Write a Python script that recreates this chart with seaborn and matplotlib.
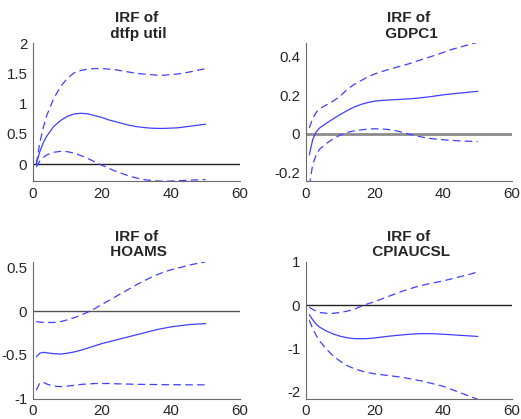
import numpy as np
import pandas as pd
import seaborn as sns
import matplotlib
matplotlib.use("Agg")
import matplotlib.pyplot as plt
from matplotlib.ticker import FuncFormatter

h = [1, 2, 3, 4, 6, 8, 10, 12, 14, 16, 18, 20, 22, 24, 26, 28, 30,
     32, 34, 36, 38, 40, 42, 44, 46, 48, 50]

titles = ["IRF of\n dtfp util", "IRF of\n GDPC1", "IRF of\n HOAMS", "IRF of\n CPIAUCSL"]

# dtfp util
dtfp_mid = [0.0, 0.2, 0.35, 0.46, 0.62, 0.72, 0.79, 0.83, 0.84, 0.83, 0.80, 0.77, 0.73,
            0.70, 0.67, 0.64, 0.62, 0.605, 0.595, 0.59, 0.59, 0.595, 0.60, 0.615, 0.63, 0.645, 0.66]
dtfp_hi = [0.0, 0.35, 0.6, 0.8, 1.08, 1.28, 1.42, 1.51, 1.55, 1.57, 1.58, 1.58, 1.57,
           1.56, 1.54, 1.52, 1.50, 1.49, 1.48, 1.47, 1.47, 1.48, 1.49, 1.51, 1.53, 1.555, 1.58]
dtfp_lo = [-0.05, 0.05, 0.11, 0.15, 0.195, 0.21, 0.205, 0.18, 0.14, 0.09, 0.035, -0.02, -0.07,
           -0.12, -0.16, -0.2, -0.23, -0.255, -0.27, -0.28, -0.285, -0.28, -0.275, -0.27, -0.265, -0.26, -0.255]

# GDPC1
gdp_mid = [-0.11, -0.03, 0.01, 0.03, 0.055, 0.078, 0.1, 0.12, 0.138, 0.152, 0.162, 0.169, 0.173,
           0.175, 0.177, 0.179, 0.181, 0.184, 0.188, 0.192, 0.197, 0.202, 0.206, 0.21, 0.213, 0.217, 0.22]
gdp_hi = [0.03, 0.08, 0.11, 0.13, 0.15, 0.17, 0.195, 0.23, 0.255, 0.275, 0.295, 0.31, 0.322,
          0.333, 0.343, 0.353, 0.363, 0.375, 0.387, 0.398, 0.41, 0.422, 0.435, 0.445, 0.455, 0.465, 0.475]
gdp_lo = [-0.27, -0.16, -0.11, -0.08, -0.05, -0.025, -0.007, 0.007, 0.015, 0.02, 0.024, 0.026, 0.025,
          0.022, 0.016, 0.008, -0.002, -0.01, -0.018, -0.024, -0.028, -0.031, -0.034, -0.036, -0.038, -0.039, -0.04]

# HOAMS
hoams_mid = [-0.52, -0.48, -0.47, -0.475, -0.485, -0.49, -0.48, -0.465, -0.445, -0.42, -0.395, -0.37, -0.35,
             -0.33, -0.31, -0.29, -0.27, -0.25, -0.23, -0.21, -0.195, -0.18, -0.17, -0.16, -0.152, -0.147, -0.143]
hoams_hi = [-0.12, -0.125, -0.13, -0.13, -0.13, -0.12, -0.1, -0.075, -0.045, -0.01, 0.03, 0.075, 0.12,
            0.165, 0.21, 0.255, 0.3, 0.34, 0.38, 0.415, 0.445, 0.47, 0.49, 0.51, 0.53, 0.545, 0.56]
hoams_lo = [-0.9, -0.82, -0.81, -0.83, -0.855, -0.86, -0.855, -0.845, -0.835, -0.83, -0.825, -0.825, -0.825,
            -0.828, -0.83, -0.832, -0.834, -0.835, -0.836, -0.837, -0.838, -0.838, -0.839, -0.839, -0.84, -0.84, -0.84]

# CPIAUCSL
cpi_mid = [-0.22, -0.34, -0.44, -0.51, -0.6, -0.67, -0.72, -0.755, -0.775, -0.78, -0.775, -0.76, -0.74,
           -0.72, -0.705, -0.69, -0.675, -0.665, -0.66, -0.66, -0.665, -0.675, -0.685, -0.695, -0.705, -0.715, -0.725]
cpi_hi = [-0.05, -0.1, -0.14, -0.17, -0.19, -0.19, -0.17, -0.14, -0.1, -0.03, 0.03, 0.08, 0.14,
          0.2, 0.26, 0.32, 0.37, 0.42, 0.46, 0.5, 0.53, 0.56, 0.6, 0.64, 0.68, 0.72, 0.77]
cpi_lo = [-0.35, -0.55, -0.7, -0.83, -1.02, -1.18, -1.3, -1.4, -1.47, -1.52, -1.56, -1.59, -1.61,
          -1.63, -1.65, -1.67, -1.7, -1.73, -1.76, -1.8, -1.84, -1.88, -1.94, -2.0, -2.06, -2.12, -2.18]

series = [(dtfp_mid, dtfp_hi, dtfp_lo), (gdp_mid, gdp_hi, gdp_lo),
          (hoams_mid, hoams_hi, hoams_lo), (cpi_mid, cpi_hi, cpi_lo)]
ylims = [(-0.28, 2.0), (-0.245, 0.47), (-1.0, 0.56), (-2.17, 1.0)]
yticks = [[0, 0.5, 1, 1.5, 2], [-0.2, 0, 0.2, 0.4], [-1, -0.5, 0, 0.5], [-2, -1, 0, 1]]
zero_col = ["#222222", "#8c8c8c", "#555555", "#222222"]
zero_lw = [1.0, 2.0, 1.0, 1.0]

sns.set_style("white")
plt.rcParams['font.family'] = ['Liberation Sans', 'DejaVu Sans']
plt.rcParams['axes.unicode_minus'] = False

fig = plt.figure(figsize=(5.21, 4.19), dpi=100)
# axes boxes in figure fractions [left, bottom, width, height]
boxes = [[0.063, 0.568, 0.398, 0.329], [0.587, 0.568, 0.396, 0.329],
         [0.063, 0.048, 0.398, 0.327], [0.587, 0.048, 0.396, 0.327]]

blue = (0.25, 0.25, 1.0)
for i in range(4):
    ax = fig.add_axes(boxes[i])
    mid, hi, lo = series[i]
    df = pd.DataFrame({"h": h, "mid": mid, "hi": hi, "lo": lo})
    ax.axhline(0, color=zero_col[i], lw=zero_lw[i], zorder=1)
    sns.lineplot(data=df, x="h", y="mid", ax=ax, color=blue, lw=0.9)
    for col in ["hi", "lo"]:
        sns.lineplot(data=df, x="h", y=col, ax=ax, color=blue, lw=0.9,
                     dashes=False, linestyle=(0, (6, 3.5)))
    ax.set_xlim(0, 60)
    ax.set_ylim(*ylims[i])
    ax.set_xticks([0, 20, 40, 60])
    ax.set_yticks(yticks[i])
    ax.yaxis.set_major_formatter(FuncFormatter(lambda v, p: "%g" % v))
    ax.set_xlabel("")
    ax.set_ylabel("")
    ax.set_title(titles[i], fontsize=11, fontweight="bold", pad=4, linespacing=1.15)
    sns.despine(ax=ax)
    for s in ["left", "bottom"]:
        ax.spines[s].set_color("#6a6a6a")
        ax.spines[s].set_linewidth(0.8)
    ax.tick_params(direction="in", length=3, width=0.6, labelsize=10.8,
                   colors="#6a6a6a", labelcolor="#262626", pad=4)

fig.savefig("out.png", dpi=100)
